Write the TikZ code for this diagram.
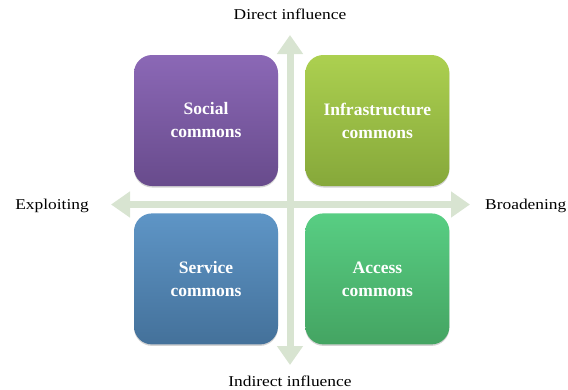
\documentclass[tikz,border=0pt]{standalone}
\usepackage{fontspec}
\setmainfont{Liberation Serif}
\newfontfamily\widefont[FakeStretch=1.16]{Liberation Serif}
\usetikzlibrary{arrows.meta,positioning,shadows}
\definecolor{axisgreen}{RGB}{216,228,209}
\definecolor{socialtop}{RGB}{139,104,182}
\definecolor{socialbot}{RGB}{104,75,140}
\definecolor{infratop}{RGB}{172,208,80}
\definecolor{infrabot}{RGB}{134,168,58}
\definecolor{servicetop}{RGB}{94,149,198}
\definecolor{servicebot}{RGB}{68,113,154}
\definecolor{accesstop}{RGB}{88,206,131}
\definecolor{accessbot}{RGB}{68,164,98}
\tikzstyle{quad} = [minimum width=144pt, minimum height=131pt, inner sep=0,
             rounded corners=18pt, align=center, text=white,
             font=\fontsize{17.5}{23}\selectfont\bfseries,
             drop shadow={opacity=0.35, shadow xshift=0pt, shadow yshift=-1.5pt}]
\tikzstyle{axisarrow} = [line width=7pt, draw=axisgreen,
             {Triangle[width=25pt,length=19pt]}-{Triangle[width=25pt,length=19pt]}]
\tikzstyle{axislabel} = [inner sep=0pt, font=\widefont\fontsize{15}{18}\selectfont]

\begin{document}
\begin{tikzpicture}[x=1pt, y=-1pt]
    \useasboundingbox (0,0) rectangle (568,389);

    \coordinate (top) at (290,35);
    \coordinate (bot) at (290,365);
    \coordinate (west) at (111,204.5);
    \coordinate (east) at (470,204.5);

    \draw[axisarrow] (bot) -- (top);
    \draw[axisarrow] (west) -- (east);

    \node[axislabel, above = 15pt of top] (direct) {Direct influence};
    \node[axislabel, below = 11pt of bot] (indirect) {Indirect influence};
    \node[axislabel, left = 22pt of west, yshift=-1.5pt] (exploit) {Exploiting};
    \node[axislabel, right = 15pt of east, yshift=-1.5pt] (broaden) {Broadening};

    \node[quad, top color=socialtop, bottom color=socialbot] (social)
    at (206,120.5) {Social\\commons};
    \node[quad, top color=infratop, bottom color=infrabot,
    right = 27pt of social] (infra) {Infrastructure\\commons};
    \node[quad, top color=servicetop, bottom color=servicebot,
    below = 27pt of social] (service) {Service\\commons};
    \node[quad, top color=accesstop, bottom color=accessbot,
    right = 27pt of service] (access) {Access\\commons};

\end{tikzpicture}
\end{document}
